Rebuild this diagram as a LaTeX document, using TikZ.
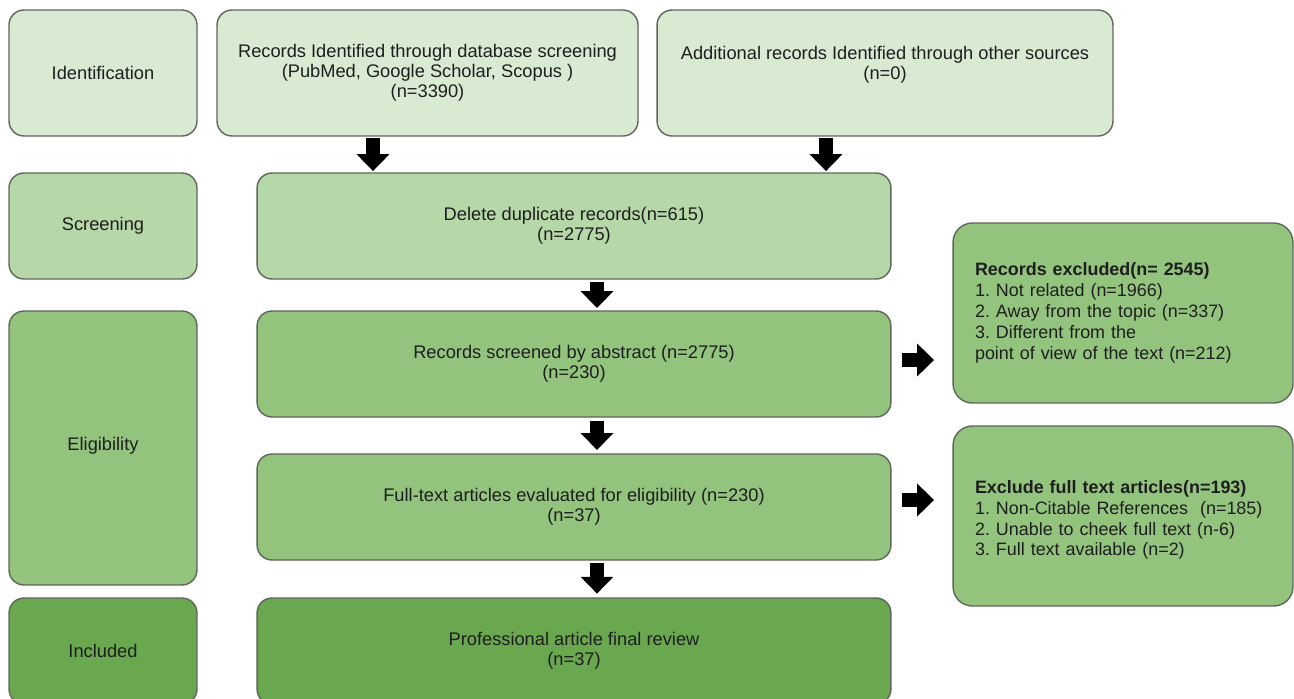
\documentclass[tikz,border=0pt]{standalone}
\usepackage{fontspec}
\setmainfont{Liberation Sans}
\usetikzlibrary{arrows.meta,calc}
\definecolor{cA}{HTML}{D9EAD3}
\definecolor{cB}{HTML}{B6D7A8}
\definecolor{cC}{HTML}{93C47D}
\definecolor{cD}{HTML}{6AA84F}
\definecolor{bordergray}{HTML}{5F665C}
\definecolor{textgray}{HTML}{1E1E1E}
\frenchspacing
\begin{document}
\begin{tikzpicture}[x=0.02cm,y=-0.02cm,
  box/.style={draw=bordergray, line width=0.8pt, rounded corners=8.5pt, inner sep=0pt, outer sep=0pt,
    align=center, text=textgray, font=\fontsize{10.4}{11.4}\selectfont},
  sidebox/.style={box, rounded corners=11pt, align=left, text width=5.92cm, minimum width=6.8cm, minimum height=3.6cm,
    font=\fontsize{10.2}{11.9}\selectfont, fill=cC},
  blockarrow/.style={line width=8.5pt, draw=black, -{Triangle[width=18.1pt,length=9.6pt]}}]
\clip (0,0) rectangle (1294,698);
\fill[white] (0,0) rectangle (1294,698);

% left stage labels
\node[box, fill=cA, minimum width=3.76cm, minimum height=2.52cm] (idf) at (103,73) {Identification};
\node[box, fill=cB, minimum width=3.76cm, minimum height=2.12cm] (scr) at (103,226) {Screening};
\node[box, fill=cC, minimum width=3.76cm, minimum height=5.48cm] (elg) at (103,448) {\raisebox{5pt}{Eligibility}};
\node[box, fill=cD, minimum width=3.76cm, minimum height=2.12cm] (inc) at (103,651) {Included};

% main flow
\node[box, fill=cA, minimum width=8.42cm, minimum height=2.52cm] (id1) at (427.5,73)
  {Records Identified through database screening\\(PubMed, Google Scholar, Scopus )\\(n=3390)};
\node[box, fill=cA, minimum width=9.12cm, minimum height=2.52cm] (id2) at (885,73)
  {Additional records Identified through other sources\\(n=0)\\\mbox{}};
\node[box, fill=cB, minimum width=12.68cm, minimum height=2.12cm] (dup) at (574,226)
  {Delete duplicate records(n=615)\\(n=2775)};
\node[box, fill=cC, minimum width=12.68cm, minimum height=2.12cm] (abs) at (574,364)
  {Records screened by abstract (n=2775)\\(n=230)};
\node[box, fill=cC, minimum width=12.68cm, minimum height=2.12cm] (ful) at (574,507)
  {Full-text articles evaluated for eligibility (n=230)\\(n=37)};
\node[box, fill=cD, minimum width=12.68cm, minimum height=2.12cm] (prof) at (574,651)
  {Professional article final review\\(n=37)};

% exclusion boxes
\node[sidebox] (ex1) at (1123,313)
  {\textbf{Records excluded(n= 2545)}\\1. Not related (n=1966)\\2. Away from the topic (n=337)\\3. Different from the\\point of view of the text (n=212)};
\node[sidebox] (ex2) at (1123,516)
  {\mbox{}\\\textbf{Exclude full text articles(n=193)}\\1. Non-Citable References~~(n=185)\\2. Unable to cheek full text (n-6)\\3. Full text available (n=2)};

% arrow columns
\coordinate (a1) at (373,0);
\coordinate (a2) at (826,0);
\coordinate (a3) at (597,0);

\draw[blockarrow, shorten <=1.1pt, shorten >=1.1pt] (a1 |- id1.south) -- (a1 |- dup.north);
\draw[blockarrow, shorten <=1.1pt, shorten >=1.1pt] (a2 |- id2.south) -- (a2 |- dup.north);
\draw[blockarrow, shorten <=1.7pt, shorten >=1.7pt] (a3 |- dup.south) -- (a3 |- abs.north);
\draw[blockarrow, shorten <=2.5pt, shorten >=2.3pt] (a3 |- abs.south) -- (a3 |- ful.north);
\draw[blockarrow, shorten <=1.7pt, shorten >=2.5pt] (a3 |- ful.south) -- (a3 |- prof.north);

\coordinate (r1) at ($(abs.east)+(0,-4)$);
\coordinate (r2) at ($(ful.east)+(0,-7)$);
\draw[blockarrow, shorten <=6.2pt, shorten >=10.8pt] (r1) -- (ex1.west |- r1);
\draw[blockarrow, shorten <=6.2pt, shorten >=10.8pt] (r2) -- (ex2.west |- r2);
\end{tikzpicture}
\end{document}
